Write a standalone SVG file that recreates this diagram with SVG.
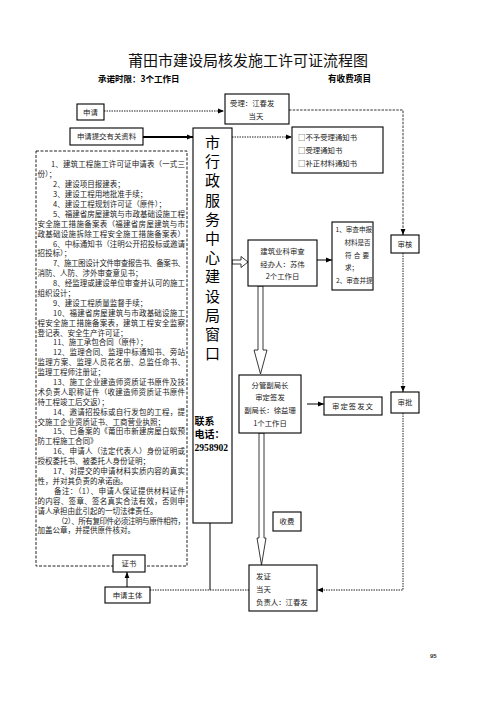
<svg xmlns="http://www.w3.org/2000/svg" width="496" height="702" viewBox="0 0 496 702">
<style>
.bx{fill:#fff;stroke:#000;stroke-width:1.1}
.t{font-family:"Noto Sans CJK SC","Noto Sans CJK JP",sans-serif;font-size:7.4px;fill:#222}
.ts{font-family:"Noto Sans CJK SC","Noto Sans CJK JP",sans-serif;font-size:6.6px;fill:#222}
.tc{font-family:"Noto Sans CJK SC","Noto Sans CJK JP",sans-serif;font-size:7.4px;fill:#222;text-anchor:middle}
.l{font-family:"Noto Sans CJK SC","Noto Sans CJK JP",sans-serif;font-size:7.5px;fill:#222}
.big{font-family:"Noto Sans CJK SC","Noto Sans CJK JP",sans-serif;font-size:15px;fill:#000;text-anchor:middle}
.dot{fill:none;stroke:#222;stroke-width:1;stroke-dasharray:1.5 1}
.sol{fill:none;stroke:#000;stroke-width:1}
.hol{fill:#fff;stroke:#222;stroke-width:0.9}
</style>
<defs>
<marker id="ah" viewBox="0 0 10 10" refX="10" refY="5" markerWidth="6" markerHeight="6" markerUnits="userSpaceOnUse" orient="auto"><path d="M0,1 L10,5 L0,9 z" fill="#000"/></marker>
</defs>
<rect width="496" height="702" fill="#fff"/>

<g id="title">
<text x="248" y="66" text-anchor="middle" style="font-family:'Noto Sans CJK SC',sans-serif;font-size:15px;fill:#111">莆田市建设局核发施工许可证流程图</text>
<text x="98" y="82" style="font-family:'Noto Sans CJK SC',sans-serif;font-size:8.5px;font-weight:bold;fill:#000">承诺时限：3个工作日</text>
<text x="328" y="82" style="font-family:'Noto Sans CJK SC',sans-serif;font-size:8.6px;font-weight:bold;fill:#000">有收费项目</text>
</g>

<g id="connectors">
<line class="dot" x1="104" y1="111" x2="224" y2="111" marker-end="url(#ah)"/>
<line x1="143" y1="137" x2="193" y2="137" stroke="#000" stroke-width="1.8" marker-end="url(#ah)"/>
<line class="dot" x1="232" y1="137" x2="292" y2="137" marker-end="url(#ah)"/>
<polyline fill="none" stroke="#333" stroke-width="1" stroke-dasharray="2.5 1.2" points="289,110 403,110 403,235" marker-end="url(#ah)"/>
<line class="dot" x1="403" y1="253" x2="403" y2="392" marker-end="url(#ah)"/>
<polyline class="dot" points="403,413 403,590 317,590" marker-end="url(#ah)"/>
<polygon class="hol" points="232,260 241,260 241,256.5 248,262 241,267.5 241,264 232,264"/>
<line class="sol" x1="317" y1="260" x2="332" y2="260" marker-end="url(#ah)"/>
<polygon class="hol" points="258,286 263,286 263,350 267,350 260.5,374 254,350 258,350"/>
<line class="sol" x1="307" y1="404" x2="324" y2="404" marker-end="url(#ah)"/>
<polygon class="hol" points="259,433 264,433 264,538 266,538 261.5,565 257,538 259,538"/>
<line class="dot" x1="150" y1="590" x2="249" y2="590"/>
<line class="sol" x1="210" y1="523" x2="210" y2="590"/>
<line class="sol" x1="127" y1="587" x2="127" y2="572" marker-end="url(#ah)"/>
</g>

<g id="materials">
<rect x="36" y="151" width="151" height="415" fill="none" stroke="#222" stroke-width="1" stroke-dasharray="3 1.5"/>
<text class="l" x="51" y="167" textLength="134" lengthAdjust="spacing">1、建筑工程施工许可证申请表（一式三</text>
<text class="l" x="37.5" y="177">份）；</text>
<text class="l" x="53" y="187">2、建设项目报建表；</text>
<text class="l" x="53" y="197">3、建设工程用地批准手续；</text>
<text class="l" x="53" y="207">4、建设工程规划许可证（原件）；</text>
<text class="l" x="53" y="216.5" textLength="132" lengthAdjust="spacing">5、福建省房屋建筑与市政基础设施工程</text>
<text class="l" x="37.5" y="226.5" textLength="147.5" lengthAdjust="spacing">安全施工措施备案表（福建省房屋建筑与市</text>
<text class="l" x="37.5" y="236.5" textLength="147.5" lengthAdjust="spacing">政基础设施拆除工程安全施工措施备案表）</text>
<text class="l" x="53" y="246.5" textLength="132" lengthAdjust="spacing">6、中标通知书（注明公开招投标或邀请</text>
<text class="l" x="37.5" y="256">招投标）；</text>
<text class="l" x="53" y="266" textLength="132" lengthAdjust="spacing">7、施工图设计文件审查报告书、备案书、</text>
<text class="l" x="37.5" y="276">消防、人防、涉外审查意见书；</text>
<text class="l" x="53" y="286" textLength="132" lengthAdjust="spacing">8、经监理或建设单位审查并认可的施工</text>
<text class="l" x="37.5" y="296">组织设计；</text>
<text class="l" x="53" y="305.5">9、建设工程质量监督手续；</text>
<text class="l" x="53" y="315.5" textLength="132" lengthAdjust="spacing">10、福建省房屋建筑与市政基础设施工</text>
<text class="l" x="37.5" y="325.5" textLength="147.5" lengthAdjust="spacing">程安全施工措施备案表，建筑工程安全监察</text>
<text class="l" x="37.5" y="335.5">登记表、安全生产许可证；</text>
<text class="l" x="53" y="345">11、施工承包合同（原件）；</text>
<text class="l" x="53" y="355" textLength="132" lengthAdjust="spacing">12、监理合同、监理中标通知书、旁站</text>
<text class="l" x="37.5" y="365" textLength="147.5" lengthAdjust="spacing">监理方案、监理人员花名册、总监任命书、</text>
<text class="l" x="37.5" y="375">监理工程师注册证；</text>
<text class="l" x="53" y="385" textLength="132" lengthAdjust="spacing">13、施工企业建造师资质证书原件及技</text>
<text class="l" x="37.5" y="394.5" textLength="147.5" lengthAdjust="spacing">术负责人职称证件（收建造师资质证书原件</text>
<text class="l" x="37.5" y="404.5">待工程竣工后交返）；</text>
<text class="l" x="53" y="414.5" textLength="132" lengthAdjust="spacing">14、邀请招投标或自行发包的工程，提</text>
<text class="l" x="37.5" y="424.5">交施工企业资质证书、工商营业执照；</text>
<text class="l" x="53" y="434" textLength="132" lengthAdjust="spacing">15、已备案的《莆田市新建房屋白蚁预</text>
<text class="l" x="37.5" y="444">防工程施工合同》</text>
<text class="l" x="53" y="454" textLength="132" lengthAdjust="spacing">16、申请人（法定代表人）身份证明或</text>
<text class="l" x="37.5" y="464">授权委托书、被委托人身份证明；</text>
<text class="l" x="53" y="474" textLength="132" lengthAdjust="spacing">17、对提交的申请材料实质内容的真实</text>
<text class="l" x="37.5" y="483.5">性，并对其负责的承诺函。</text>
<text class="l" x="54" y="493.5" textLength="131" lengthAdjust="spacing">备注：（1）、申请人保证提供材料证件</text>
<text class="l" x="37.5" y="503.5" textLength="147.5" lengthAdjust="spacing">的内容、签章、签名真实合法有效，否则申</text>
<text class="l" x="37.5" y="513.5">请人承担由此引起的一切法律责任。</text>
<text class="l" x="57" y="523.5" textLength="128" lengthAdjust="spacing">（2）、所有复印件必须注明与原件相符，</text>
<text class="l" x="37.5" y="533">加盖公章，并提供原件核对。</text>
</g>

<g id="apply"><rect class="bx" x="77" y="104" width="27" height="16"/><text class="tc" x="90.5" y="114.8">申请</text></g>
<g id="accept"><rect class="bx" x="225" y="94" width="64" height="30"/><text class="t" x="230" y="106">受理：江春发</text><text class="tc" x="256" y="119">当天</text></g>
<g id="submit"><rect class="bx" x="70" y="128" width="73" height="17"/><text class="tc" x="106.5" y="139.3">申请提交有关资料</text></g>

<g id="window">
<rect class="bx" x="193" y="128" width="39" height="395"/>
<text class="big" x="212.5" y="148">市</text>
<text class="big" x="212.5" y="167.2">行</text>
<text class="big" x="212.5" y="186.4">政</text>
<text class="big" x="212.5" y="205.6">服</text>
<text class="big" x="212.5" y="224.8">务</text>
<text class="big" x="212.5" y="244">中</text>
<text class="big" x="212.5" y="263.2">心</text>
<text class="big" x="212.5" y="282.4">建</text>
<text class="big" x="212.5" y="301.6">设</text>
<text class="big" x="212.5" y="320.8">局</text>
<text class="big" x="212.5" y="340">窗</text>
<text class="big" x="212.5" y="359.2">口</text>
<text x="194.5" y="424.5" style="font-family:'Noto Sans CJK SC',sans-serif;font-size:10px;font-weight:bold;fill:#000">联系</text>
<text x="194.5" y="438" style="font-family:'Noto Sans CJK SC',sans-serif;font-size:10px;font-weight:bold;fill:#000">电话：</text>
<text x="194.5" y="450.5" style="font-family:'Liberation Serif',serif;font-size:9.6px;font-weight:bold;fill:#000">2958902</text>
</g>

<g id="notices"><rect class="bx" x="292" y="127" width="91" height="46"/>
<text class="t" x="298" y="140">□不予受理通知书</text>
<text class="t" x="298" y="153">□受理通知书</text>
<text class="t" x="298" y="166">□补正材料通知书</text></g>

<g id="review-section"><rect class="bx" x="248" y="240" width="69" height="46"/>
<text class="tc" x="282.5" y="254">建筑业科审查</text>
<text class="tc" x="282.5" y="267">经办人：苏伟</text>
<text class="tc" x="282.5" y="279">2个工作日</text></g>

<g id="review-items"><rect class="bx" x="332" y="222" width="41" height="68"/>
<text class="ts" x="335.5" y="232">1、审查申报</text>
<text class="ts" x="344.5" y="245" textLength="26" lengthAdjust="spacing">材料是否</text>
<text class="ts" x="345" y="258" textLength="24" lengthAdjust="spacing">符合要</text>
<text class="ts" x="345" y="270">求；</text>
<text class="ts" x="336" y="283">2、审查并提</text></g>

<g id="audit"><rect class="bx" x="391" y="235" width="28" height="18"/><text class="tc" x="405" y="246.8">审核</text></g>
<g id="approve"><rect class="bx" x="391" y="392" width="28" height="21"/><text class="tc" x="405" y="405">审批</text></g>

<g id="deputy"><rect class="bx" x="239" y="375" width="62" height="58"/>
<text class="tc" x="270" y="388">分管副局长</text>
<text class="tc" x="270" y="400">审定签发</text>
<text class="tc" x="270" y="412.5">副局长：徐益珊</text>
<text class="tc" x="270" y="426">1个工作日</text></g>

<g id="issue-doc"><rect class="bx" x="324" y="397" width="58" height="18"/><text class="t" x="332" y="409" textLength="41" lengthAdjust="spacing">审定签发文</text></g>
<g id="fee"><rect class="bx" x="273" y="512" width="28" height="19"/><text class="tc" x="287" y="524.3">收费</text></g>
<g id="certificate-issue"><rect class="bx" x="249" y="565" width="68" height="46"/>
<text class="t" x="256" y="579">发证</text>
<text class="t" x="256" y="592">当天</text>
<text class="t" x="256" y="605">负责人：江春发</text></g>
<g id="cert"><rect class="bx" x="113" y="555" width="32" height="17"/><text class="tc" x="129" y="566.3">证书</text></g>
<g id="applicant"><rect class="bx" x="105" y="587" width="45" height="16"/><text class="tc" x="127.5" y="598">申请主体</text></g>
<text x="430" y="658" style="font-family:'Liberation Sans',sans-serif;font-size:6px;font-weight:bold;fill:#333">95</text>
</svg>
